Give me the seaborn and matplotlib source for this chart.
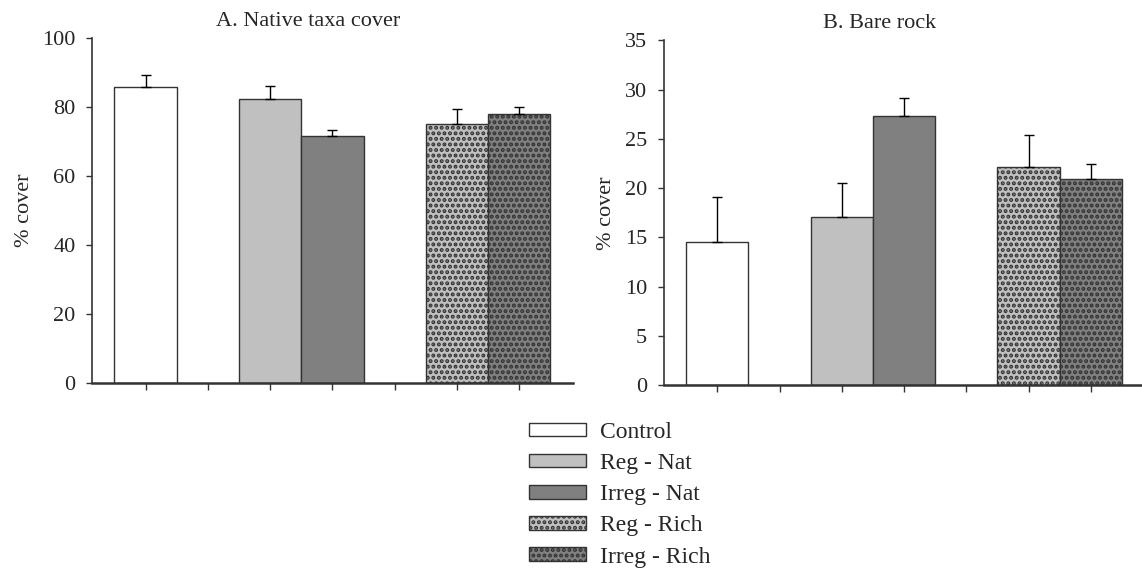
import numpy as np
import pandas as pd
import matplotlib
matplotlib.use("Agg")
import matplotlib.pyplot as plt
from matplotlib.patches import Patch
import seaborn as sns

# ---- data ----
groups = ['Control', 'Reg - Nat', 'Irreg - Nat', 'Reg - Rich', 'Irreg - Rich']
native_mean = [85.8, 82.4, 71.5, 75.2, 78.0]
native_se = [3.6, 3.8, 1.8, 4.4, 1.9]
bare_mean = [14.5, 17.1, 27.35, 22.1, 20.9]
bare_se = [4.65, 3.4, 1.75, 3.25, 1.6]

# empty slots leave the gaps between treatment groups
slots = ['Control', ' ', 'Reg - Nat', 'Irreg - Nat', '  ', 'Reg - Rich', 'Irreg - Rich']

colors = {'Control': 'white', 'Reg - Nat': '#c0c0c0', 'Irreg - Nat': '#808080',
          'Reg - Rich': '#c0c0c0', 'Irreg - Rich': '#808080'}
hatches = {'Control': None, 'Reg - Nat': None, 'Irreg - Nat': None,
           'Reg - Rich': '...', 'Irreg - Rich': '...'}

sns.set_style('ticks')
plt.rcParams['font.family'] = ['Liberation Serif', 'DejaVu Serif']
plt.rcParams['hatch.linewidth'] = 2.0
plt.rcParams['hatch.color'] = 'black'

fig = plt.figure(figsize=(11.42, 5.77), dpi=100)
axA = fig.add_axes([0.0806, 0.3357, 0.4209, 0.5983])
axB = fig.add_axes([0.5812, 0.3322, 0.4209, 0.5980])


def draw_panel(ax, means, se, title, ymax, ystep):
    df = pd.DataFrame({'group': groups, 'value': means})
    sns.barplot(data=df, x='group', y='value', hue='group', order=slots,
                palette=colors, width=1.0, legend=False, errorbar=None, ax=ax)
    for bar in ax.patches:
        pos = int(round(bar.get_x() + bar.get_width() / 2))
        g = slots[pos]
        bar.set_edgecolor('#333333')
        bar.set_linewidth(1.0)
        if hatches[g]:
            bar.set_hatch(hatches[g])
    pos = [slots.index(g) for g in groups]
    ax.errorbar(pos, means, yerr=[np.zeros(len(se)), se], fmt='none',
                ecolor='black', elinewidth=1.0, capsize=3.9, capthick=1.0, zorder=1)
    ax.set_xlim(-0.86, 6.86)
    ax.set_ylim(0, ymax)
    ax.set_yticks(np.arange(0, ymax + 0.1, ystep))
    ax.set_xticks(range(len(slots)))
    ax.set_xticklabels([])
    ax.set_xlabel('')
    ax.set_ylabel('% cover', fontsize=16, labelpad=6)
    ax.tick_params(axis='y', labelsize=16, length=4, width=1, pad=8, color='#333333')
    ax.tick_params(axis='x', length=5, width=1, color='#333333')
    for s in ['left', 'bottom']:
        ax.spines[s].set_color('#333333')
        ax.spines[s].set_linewidth(1.2)
    ax.spines['bottom'].set_linewidth(1.8)
    sns.despine(ax=ax)
    ax.text(0.45, 1.02, title, transform=ax.transAxes, ha='center',
            va='bottom', fontsize=16)


draw_panel(axA, native_mean, native_se, 'A. Native taxa cover', 100, 20)
draw_panel(axB, bare_mean, bare_se, 'B. Bare rock', 35, 5)

handles = [Patch(facecolor=colors[g], edgecolor='#333333', hatch=hatches[g], label=g)
           for g in groups]
fig.legend(handles=handles, loc='upper left', bbox_to_anchor=(0.455, 0.285),
           frameon=False, fontsize=17, handlelength=2.4, handleheight=0.5,
           handletextpad=0.6, labelspacing=0.43, borderaxespad=0)

fig.savefig('out.png', dpi=100)
